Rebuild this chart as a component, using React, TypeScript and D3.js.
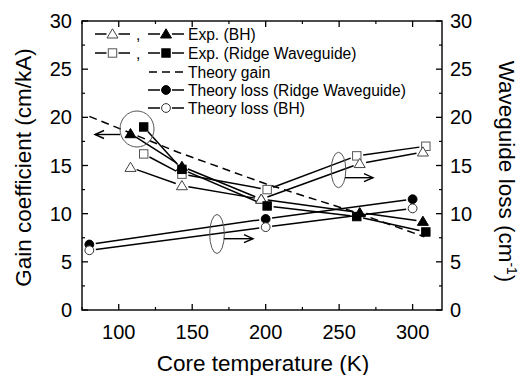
import React from "react";
import * as d3 from "d3";

const tempBH = [108, 143, 197, 264, 307];
const gainBH = [18.3, 14.9, 11.5, 10.1, 9.2];
const lossBH = [14.8, 12.9, 11.5, 15.2, 16.4];
const tempRW = [117, 143, 201, 262, 309];
const gainRW = [19.0, 14.6, 10.8, 9.7, 8.1];
const lossRW = [16.2, 14.1, 12.5, 16.0, 17.0];
const tempTheoryLoss = [80, 200, 300];
const theoryLossRW = [6.8, 9.45, 11.5];
const theoryLossBH = [6.2, 8.6, 10.55];
const tempTheoryGain = [80, 140, 200, 260, 308];
const theoryGain = [20.1, 16.4, 13.1, 10.2, 7.6];

const xTicks = [100, 150, 200, 250, 300];
const yTicks = [0, 5, 10, 15, 20, 25, 30];

const FONT = "'Liberation Sans', Arial, Helvetica, sans-serif";
const W = 519, H = 375;
const L = 82, R = 442, T = 21, B = 310;

const x = d3.scaleLinear().domain([75, 320]).range([L, R]);
const y = d3.scaleLinear().domain([0, 30]).range([B, T]);

type Pt = [number, number];

function gapSegments(pts: Pt[], gap: number) {
  const segs: { x1: number; y1: number; x2: number; y2: number }[] = [];
  for (let i = 0; i < pts.length - 1; i++) {
    const [ax, ay] = pts[i];
    const [bx, by] = pts[i + 1];
    const dx = bx - ax, dy = by - ay;
    const len = Math.hypot(dx, dy);
    if (len <= 2 * gap) continue;
    const ux = dx / len, uy = dy / len;
    segs.push({ x1: ax + ux * gap, y1: ay + uy * gap, x2: bx - ux * gap, y2: by - uy * gap });
  }
  return segs;
}

function Marker({ kind, cx, cy }: { kind: string; cx: number; cy: number }) {
  const s = 4.2;
  if (kind === "triOpen" || kind === "triFill") {
    const p = `M${cx},${cy - 5.2}L${cx + 5.5},${cy + 4}L${cx - 5.5},${cy + 4}Z`;
    return kind === "triOpen" ? (
      <path d={p} fill="#fff" stroke="#444" strokeWidth={1} />
    ) : (
      <path d={p} fill="#000" stroke="#000" strokeWidth={1} />
    );
  }
  if (kind === "sqOpen")
    return <rect x={cx - s} y={cy - s} width={2 * s} height={2 * s} fill="#fff" stroke="#555" strokeWidth={1} />;
  if (kind === "sqFill")
    return <rect x={cx - s} y={cy - s} width={2 * s} height={2 * s} fill="#000" stroke="#000" strokeWidth={1} />;
  if (kind === "cirOpen") return <circle cx={cx} cy={cy} r={4.4} fill="#fff" stroke="#333" strokeWidth={1} />;
  return <circle cx={cx} cy={cy} r={4.4} fill="#000" stroke="#000" strokeWidth={1} />;
}

function Series({ xs, ys }: { xs: number[]; ys: number[] }) {
  const pts: Pt[] = xs.map((t, i) => [x(t), y(ys[i])]);
  return (
    <g>
      {gapSegments(pts, 6.5).map((s, i) => (
        <line key={i} {...s} stroke="#000" strokeWidth={1.5} />
      ))}
    </g>
  );
}

function Markers({ xs, ys, kind }: { xs: number[]; ys: number[]; kind: string }) {
  return (
    <g>
      {xs.map((t, i) => (
        <Marker key={i} kind={kind} cx={x(t)} cy={y(ys[i])} />
      ))}
    </g>
  );
}

function Arrow({ x1, x2, yy }: { x1: number; x2: number; yy: number }) {
  const dir = x2 > x1 ? 1 : -1;
  return (
    <g stroke="#000" strokeWidth={1.4} fill="none">
      <line x1={x1} y1={yy} x2={x2} y2={yy} />
      <path d={`M${x2 - dir * 9},${yy - 4}L${x2},${yy}L${x2 - dir * 9},${yy + 4}`} />
    </g>
  );
}

function LegendSample({ x0, x1, yy, kind, dashed }: { x0: number; x1: number; yy: number; kind?: string; dashed?: boolean }) {
  const mid = (x0 + x1) / 2;
  if (dashed) return <line x1={x0} y1={yy} x2={x1} y2={yy} stroke="#000" strokeWidth={1.5} strokeDasharray="8,5" />;
  return (
    <g>
      <line x1={x0} y1={yy} x2={mid - 6} y2={yy} stroke="#000" strokeWidth={1.5} />
      <line x1={mid + 6} y1={yy} x2={x1} y2={yy} stroke="#000" strokeWidth={1.5} />
      {kind && <Marker kind={kind} cx={mid} cy={yy} />}
    </g>
  );
}

export default function App() {
  const minorX = d3.range(75, 321, 25).filter((v) => v % 50 !== 0);
  const minorY = d3.range(2.5, 30, 5);
  const gainLine = d3
    .line<number>()
    .x((t) => x(t))
    .y((_, i) => y(theoryGain[i]));
  const legendRows = [34, 53, 72, 90, 108];
  const LF = 15.6;
  return (
    <svg width={W} height={H} style={{ position: "absolute", left: 0, top: 0, background: "#fff" }} fontFamily={FONT}>
      <rect x={0} y={0} width={W} height={H} fill="#fff" />
      {/* frame */}
      <rect x={L} y={T} width={R - L} height={B - T} fill="none" stroke="#000" strokeWidth={1.4} />
      {/* x ticks */}
      {xTicks.map((t) => (
        <g key={t}>
          <line x1={x(t)} x2={x(t)} y1={B} y2={B - 6} stroke="#000" strokeWidth={1.3} />
          <line x1={x(t)} x2={x(t)} y1={T} y2={T + 6} stroke="#000" strokeWidth={1.3} />
          <text x={x(t)} y={339} fontSize={20} textAnchor="middle">
            {t}
          </text>
        </g>
      ))}
      {minorX.map((t) => (
        <g key={t}>
          <line x1={x(t)} x2={x(t)} y1={B} y2={B - 3} stroke="#000" strokeWidth={1.2} />
          <line x1={x(t)} x2={x(t)} y1={T} y2={T + 3} stroke="#000" strokeWidth={1.2} />
        </g>
      ))}
      {/* y ticks */}
      {yTicks.map((v) => (
        <g key={v}>
          <line x1={L} x2={L + 6} y1={y(v)} y2={y(v)} stroke="#000" strokeWidth={1.3} />
          <line x1={R} x2={R - 6} y1={y(v)} y2={y(v)} stroke="#000" strokeWidth={1.3} />
          <text x={72} y={y(v) + 7} fontSize={20} textAnchor="end">
            {v}
          </text>
          <text x={450} y={y(v) + 7} fontSize={20} textAnchor="start">
            {v}
          </text>
        </g>
      ))}
      {minorY.map((v) => (
        <g key={v}>
          <line x1={L} x2={L + 3} y1={y(v)} y2={y(v)} stroke="#000" strokeWidth={1.2} />
          <line x1={R} x2={R - 3} y1={y(v)} y2={y(v)} stroke="#000" strokeWidth={1.2} />
        </g>
      ))}
      {/* axis titles */}
      <text x={263} y={371} fontSize={22.5} textAnchor="middle">
        Core temperature (K)
      </text>
      <text transform={`translate(31,${(T + B) / 2 + 2}) rotate(-90)`} fontSize={22.5} textAnchor="middle">
        Gain coefficient (cm/kA)
      </text>
      <text transform={`translate(499,${(T + B) / 2 + 6}) rotate(90)`} fontSize={22.5} textAnchor="middle">
        Waveguide loss (cm
        <tspan dy={-8} fontSize={14}>
          -1
        </tspan>
        <tspan dy={8}>)</tspan>
      </text>

      {/* theory gain */}
      <path d={gainLine(tempTheoryGain) || ""} fill="none" stroke="#000" strokeWidth={1.5} strokeDasharray="8,5" />

      {/* series lines */}
      <Series xs={tempTheoryLoss} ys={theoryLossRW} />
      <Series xs={tempTheoryLoss} ys={theoryLossBH} />
      <Series xs={tempRW} ys={lossRW} />
      <Series xs={tempBH} ys={lossBH} />
      <Series xs={tempBH} ys={gainBH} />
      <Series xs={tempRW} ys={gainRW} />

      {/* markers */}
      <Markers xs={tempTheoryLoss} ys={theoryLossRW} kind="cirFill" />
      <Markers xs={tempTheoryLoss} ys={theoryLossBH} kind="cirOpen" />
      <Markers xs={tempBH} ys={gainBH} kind="triFill" />
      <Markers xs={tempRW} ys={lossRW} kind="sqOpen" />
      <Markers xs={tempBH} ys={lossBH} kind="triOpen" />
      <Markers xs={tempRW} ys={gainRW} kind="sqFill" />

      {/* annotations */}
      <ellipse cx={137} cy={129} rx={17} ry={18} fill="none" stroke="#555" strokeWidth={1} />
      <Arrow x1={120} x2={95} yy={134.5} />
      <ellipse cx={217} cy={234} rx={7.3} ry={19.5} fill="none" stroke="#555" strokeWidth={1} />
      <Arrow x1={224} x2={253} yy={238.7} />
      <ellipse cx={338.5} cy={170} rx={7.3} ry={17.7} fill="none" stroke="#555" strokeWidth={1} />
      <Arrow x1={345} x2={373} yy={177.7} />

      {/* legend */}
      <LegendSample x0={95} x1={130} yy={legendRows[0]} kind="triOpen" />
      <text x={136} y={legendRows[0] + 6} fontSize={LF}>,</text>
      <LegendSample x0={148} x1={184} yy={legendRows[0]} kind="triFill" />
      <text x={188} y={legendRows[0] + 5.5} fontSize={LF}>Exp. (BH)</text>

      <LegendSample x0={95} x1={130} yy={legendRows[1]} kind="sqOpen" />
      <text x={136} y={legendRows[1] + 6} fontSize={LF}>,</text>
      <LegendSample x0={148} x1={184} yy={legendRows[1]} kind="sqFill" />
      <text x={188} y={legendRows[1] + 5.5} fontSize={LF}>Exp. (Ridge Waveguide)</text>

      <LegendSample x0={149} x1={184} yy={legendRows[2]} dashed />
      <text x={188} y={legendRows[2] + 5.5} fontSize={LF}>Theory gain</text>

      <LegendSample x0={148} x1={184} yy={legendRows[3]} kind="cirFill" />
      <text x={188} y={legendRows[3] + 5.5} fontSize={LF}>Theory loss (Ridge Waveguide)</text>

      <LegendSample x0={148} x1={184} yy={legendRows[4]} kind="cirOpen" />
      <text x={188} y={legendRows[4] + 5.5} fontSize={LF}>Theory loss (BH)</text>
    </svg>
  );
}
